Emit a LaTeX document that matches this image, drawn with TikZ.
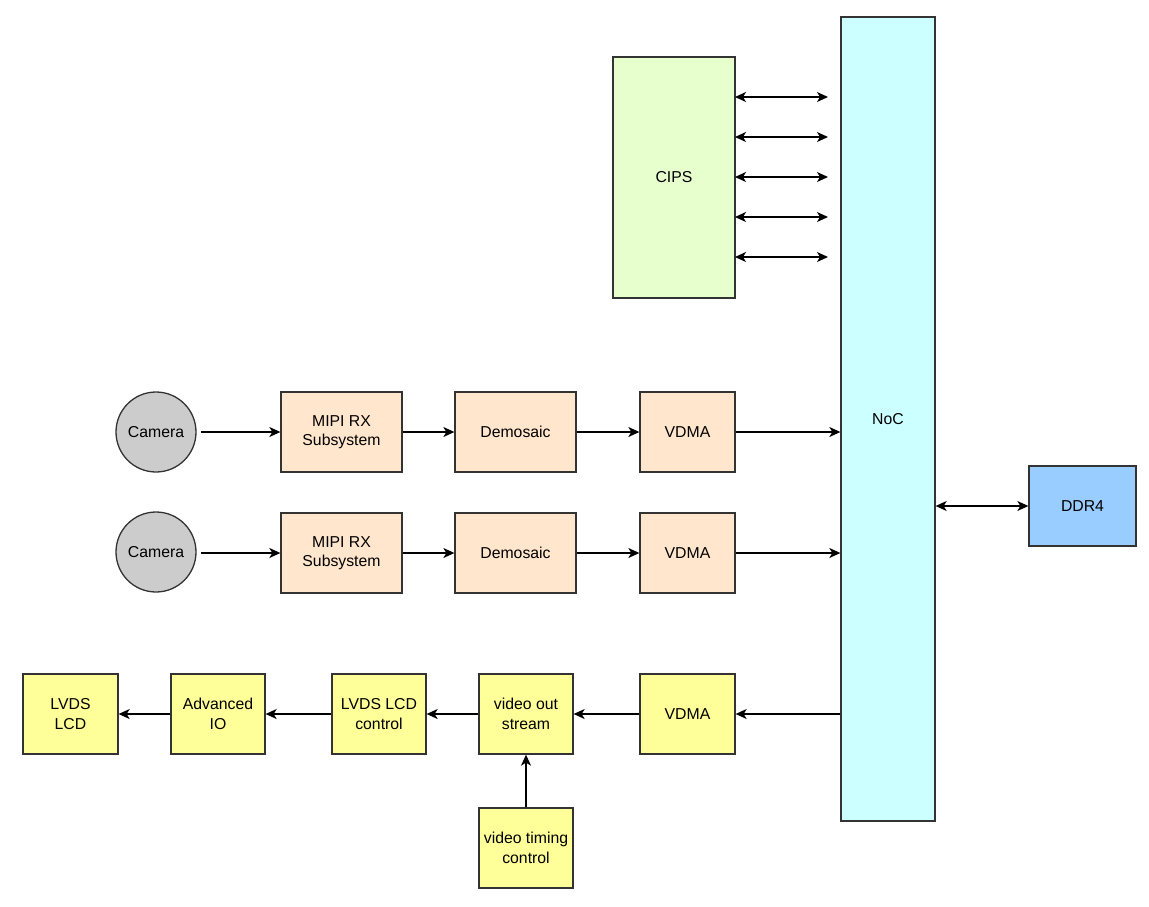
\documentclass[tikz,border=0pt]{standalone}
\usepackage{fontspec}
\setmainfont{Liberation Sans}
\usetikzlibrary{arrows.meta}
\definecolor{cipsfill}{HTML}{E6FFCC}
\definecolor{nocfill}{HTML}{CCFFFF}
\definecolor{ddrfill}{HTML}{99CCFF}
\definecolor{camfill}{HTML}{CCCCCC}
\definecolor{orfill}{HTML}{FFE6CC}
\definecolor{yelfill}{HTML}{FFFF99}
\definecolor{edge}{HTML}{333333}
\tikzset{
  blk/.style={draw=edge, line width=1.3pt, inner sep=0pt, align=center,
    font=\fontsize{15.8}{19.5}\selectfont},
  cam/.style={blk, circle, fill=camfill, minimum size=80pt},
  orblk/.style={blk, fill=orfill, minimum height=80pt},
  yelblk/.style={blk, fill=yelfill, minimum height=80pt, minimum width=94pt},
  conn/.style={line width=1.3pt, -{Stealth[length=11pt,width=10pt,inset=3pt]}},
  bconn/.style={line width=1.3pt, {Stealth[length=11pt,width=10pt,inset=3pt]}-{Stealth[length=11pt,width=10pt,inset=3pt]}}
}
\begin{document}
\begin{tikzpicture}[x=1pt,y=-1pt]
\useasboundingbox (0,0) rectangle (1149,906);
% big blocks
\node[blk, fill=cipsfill, minimum width=122pt, minimum height=241pt] (cips) at (674,177.5) {CIPS};
\node[blk, fill=nocfill, minimum width=94pt, minimum height=804pt] (noc) at (888,419) {NoC};
\node[blk, fill=ddrfill, minimum width=107pt, minimum height=80pt] (ddr) at (1082.5,506) {DDR4};
% row 1
\node[cam] (cam1) at (156,432) {Camera};
\node[orblk, minimum width=121pt] (mipi1) at (341.5,432) {MIPI RX\\Subsystem};
\node[orblk, minimum width=121pt] (dem1) at (515.5,432) {Demosaic};
\node[orblk, minimum width=95pt] (vdma1) at (687.5,432) {VDMA};
% row 2
\node[cam] (cam2) at (156,552) {Camera};
\node[orblk, minimum width=121pt] (mipi2) at (341.5,553) {MIPI RX\\Subsystem};
\node[orblk, minimum width=121pt] (dem2) at (515.5,553) {Demosaic};
\node[orblk, minimum width=95pt] (vdma2) at (687.5,553) {VDMA};
% row 3
\node[yelblk, minimum width=95pt] (vdma3) at (687.5,714) {VDMA};
\node[yelblk] (vos) at (526,714) {video out\\stream};
\node[yelblk] (lcdc) at (379,714) {LVDS LCD\\control};
\node[yelblk] (aio) at (218,714) {Advanced\\IO};
\node[yelblk, minimum width=95pt] (lcd) at (70.5,714) {LVDS\\LCD};
\node[yelblk] (vtc) at (526,848) {video timing\\control};
% CIPS <-> NoC
\foreach \i/\yy in {1/97,2/137,3/177,4/217,5/257}{
  \coordinate (ce\i) at (735,\yy);
  \coordinate (ne\i) at (828,\yy);
  \draw[bconn] (ce\i) -- (ne\i);
}
% row 1 connectors
\coordinate (c1s) at (201,432);
\draw[conn] (c1s) -- (mipi1.west);
\draw[conn] (mipi1.east) -- (dem1.west);
\draw[conn] (dem1.east) -- (vdma1.west);
\draw[conn] (vdma1.east) -- (vdma1.east -| noc.west);
% row 2 connectors
\coordinate (c2s) at (201,553);
\draw[conn] (c2s) -- (mipi2.west);
\draw[conn] (mipi2.east) -- (dem2.west);
\draw[conn] (dem2.east) -- (vdma2.west);
\draw[conn] (vdma2.east) -- (vdma2.east -| noc.west);
% DDR
\draw[bconn] (noc.east |- ddr.west) -- (ddr.west);
% row 3 connectors
\draw[conn] (vdma3.east -| noc.west) -- (vdma3.east);
\draw[conn] (vdma3.west) -- (vos.east);
\draw[conn] (vos.west) -- (lcdc.east);
\draw[conn] (lcdc.west) -- (aio.east);
\draw[conn] (aio.west) -- (lcd.east);
\draw[conn] (vtc.north) -- (vos.south);
\end{tikzpicture}
\end{document}
